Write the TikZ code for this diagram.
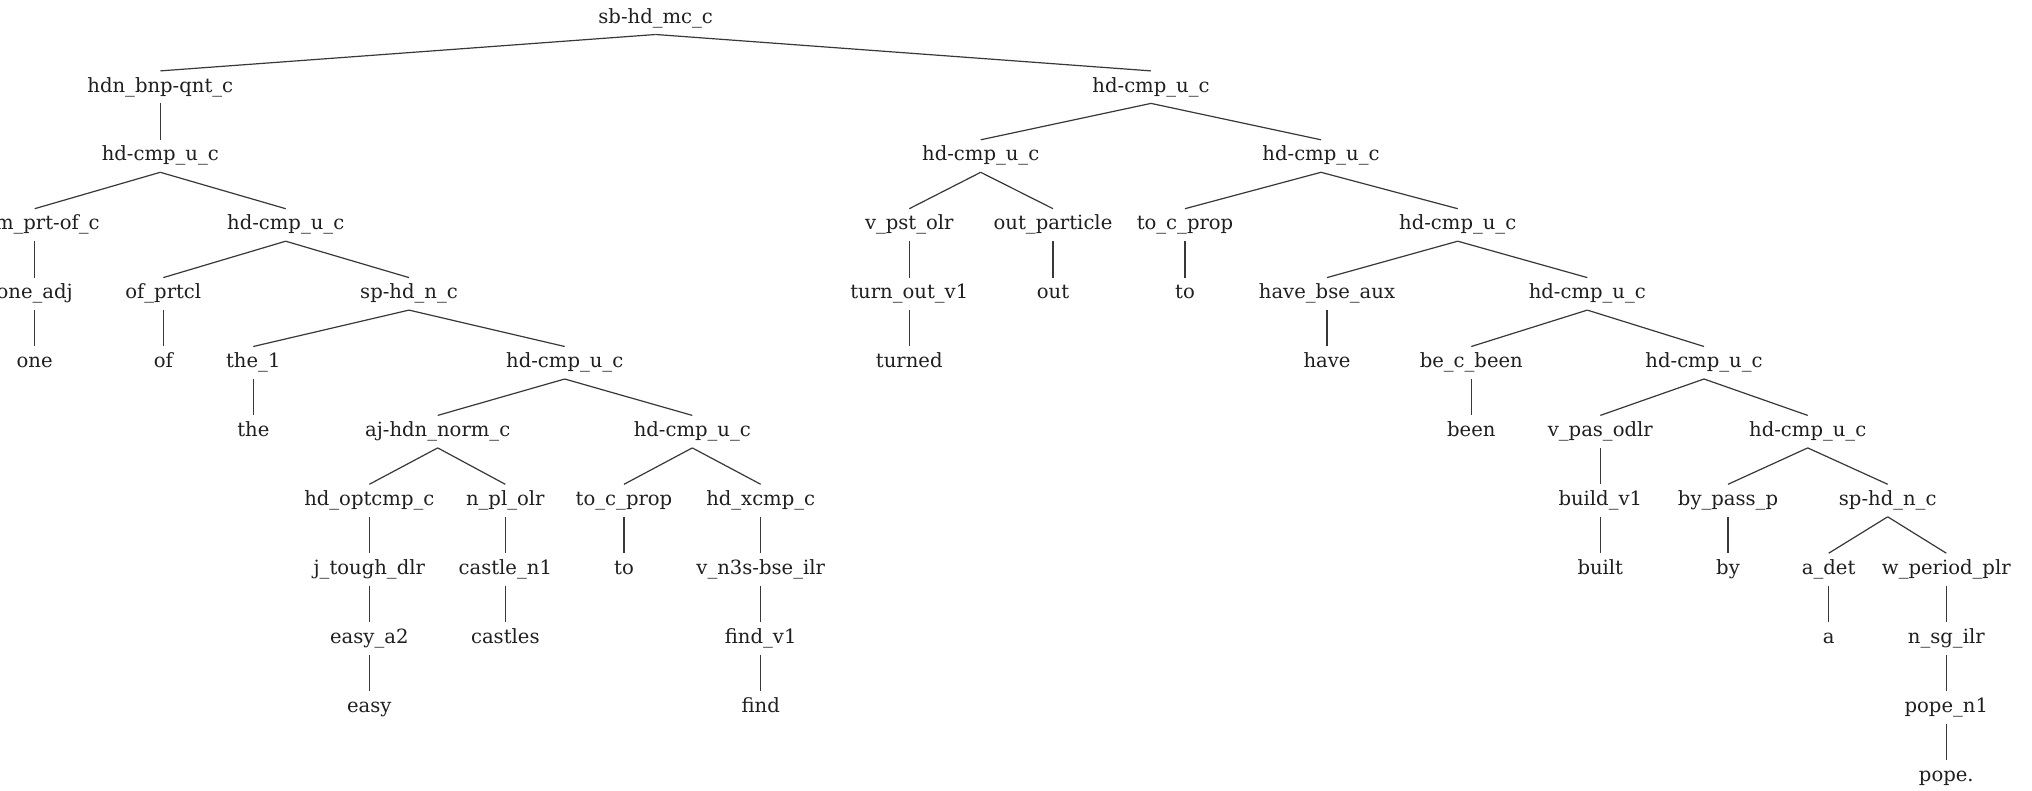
\documentclass[tikz,border=0pt]{standalone}
\usepackage{fontspec}
\setmainfont{DejaVu Serif}
\begin{document}
\begin{tikzpicture}[x=1pt,y=-1pt,
  lbl/.style={anchor=base,inner sep=0pt,text height=21pt,text depth=11.1pt,
    text=black!88,font=\fontsize{19.6}{24}\selectfont},
  link/.style={draw=black!78,line width=1.2pt}]
\clip (0,0) rectangle (2032,791);
\fill[white] (0,0) rectangle (2032,791);
\def\lv#1{23.2+68.9*#1}
% level 0
\node[lbl] (r) at (655.7,{\lv{0}}) {sb-hd\_mc\_c};
% level 1
\node[lbl] (a) at (160.3,{\lv{1}}) {hdn\_bnp-qnt\_c};
\node[lbl] (b) at (1151,{\lv{1}}) {hd-cmp\_u\_c};
% level 2
\node[lbl] (a1) at (160.3,{\lv{2}}) {hd-cmp\_u\_c};
\node[lbl] (b1) at (980.7,{\lv{2}}) {hd-cmp\_u\_c};
\node[lbl] (b2) at (1321,{\lv{2}}) {hd-cmp\_u\_c};
% level 3
\node[lbl] (a11) at (34.7,{\lv{3}}) {num\_prt-of\_c};
\node[lbl] (a12) at (285.7,{\lv{3}}) {hd-cmp\_u\_c};
\node[lbl] (b11) at (909.3,{\lv{3}}) {v\_pst\_olr};
\node[lbl] (b12) at (1053,{\lv{3}}) {out\_particle};
\node[lbl] (b21) at (1185,{\lv{3}}) {to\_c\_prop};
\node[lbl] (b22) at (1457.7,{\lv{3}}) {hd-cmp\_u\_c};
% level 4
\node[lbl] (a111) at (34.7,{\lv{4}}) {one\_adj};
\node[lbl] (a121) at (163.3,{\lv{4}}) {of\_prtcl};
\node[lbl] (a122) at (409,{\lv{4}}) {sp-hd\_n\_c};
\node[lbl] (b111) at (909.3,{\lv{4}}) {turn\_out\_v1};
\node[lbl] (b121) at (1053,{\lv{4}}) {out};
\node[lbl] (b211) at (1185,{\lv{4}}) {to};
\node[lbl] (b221) at (1327,{\lv{4}}) {have\_bse\_aux};
\node[lbl] (b222) at (1587.3,{\lv{4}}) {hd-cmp\_u\_c};
% level 5
\node[lbl] (a1111) at (34.7,{\lv{5}}) {one};
\node[lbl] (a1211) at (163.3,{\lv{5}}) {of};
\node[lbl] (c1) at (253.3,{\lv{5}}) {the\_1};
\node[lbl] (c2) at (564.7,{\lv{5}}) {hd-cmp\_u\_c};
\node[lbl] (b1111) at (909.3,{\lv{5}}) {turned};
\node[lbl] (b2211) at (1327,{\lv{5}}) {have};
\node[lbl] (d1) at (1471.3,{\lv{5}}) {be\_c\_been};
\node[lbl] (d2) at (1704,{\lv{5}}) {hd-cmp\_u\_c};
% level 6
\node[lbl] (c11) at (253.3,{\lv{6}}) {the};
\node[lbl] (c21) at (437.7,{\lv{6}}) {aj-hdn\_norm\_c};
\node[lbl] (c22) at (692.3,{\lv{6}}) {hd-cmp\_u\_c};
\node[lbl] (d11) at (1471.3,{\lv{6}}) {been};
\node[lbl] (d21) at (1600.3,{\lv{6}}) {v\_pas\_odlr};
\node[lbl] (d22) at (1807.7,{\lv{6}}) {hd-cmp\_u\_c};
% level 7
\node[lbl] (e1) at (369.3,{\lv{7}}) {hd\_optcmp\_c};
\node[lbl] (e2) at (505.3,{\lv{7}}) {n\_pl\_olr};
\node[lbl] (f1) at (624,{\lv{7}}) {to\_c\_prop};
\node[lbl] (f2) at (760.7,{\lv{7}}) {hd\_xcmp\_c};
\node[lbl] (g1) at (1600.3,{\lv{7}}) {build\_v1};
\node[lbl] (h1) at (1728,{\lv{7}}) {by\_pass\_p};
\node[lbl] (h2) at (1887.7,{\lv{7}}) {sp-hd\_n\_c};
% level 8
\node[lbl] (e11) at (369.3,{\lv{8}}) {j\_tough\_dlr};
\node[lbl] (e21) at (505.3,{\lv{8}}) {castle\_n1};
\node[lbl] (f11) at (624,{\lv{8}}) {to};
\node[lbl] (f21) at (760.7,{\lv{8}}) {v\_n3s-bse\_ilr};
\node[lbl] (g11) at (1600.3,{\lv{8}}) {built};
\node[lbl] (h11) at (1728,{\lv{8}}) {by};
\node[lbl] (i1) at (1828.7,{\lv{8}}) {a\_det};
\node[lbl] (i2) at (1946.3,{\lv{8}}) {w\_period\_plr};
% level 9
\node[lbl] (e111) at (369.3,{\lv{9}}) {easy\_a2};
\node[lbl] (e211) at (505.3,{\lv{9}}) {castles};
\node[lbl] (f211) at (760.7,{\lv{9}}) {find\_v1};
\node[lbl] (i11) at (1828.7,{\lv{9}}) {a};
\node[lbl] (i21) at (1946.3,{\lv{9}}) {n\_sg\_ilr};
% level 10
\node[lbl] (e1111) at (369.3,{\lv{10}}) {easy};
\node[lbl] (f2111) at (760.7,{\lv{10}}) {find};
\node[lbl] (i211) at (1946.3,{\lv{10}}) {pope\_n1};
% level 11
\node[lbl] (i2111) at (1946.3,{\lv{11}}) {pope.};
% branches
\foreach \p/\c in {r/a,r/b,a/a1,b/b1,b/b2,a1/a11,a1/a12,b1/b11,b1/b12,b2/b21,b2/b22,
  a11/a111,a12/a121,a12/a122,b11/b111,b12/b121,b21/b211,b22/b221,b22/b222,
  a111/a1111,a121/a1211,a122/c1,a122/c2,b111/b1111,b221/b2211,b222/d1,b222/d2,
  c1/c11,c2/c21,c2/c22,d1/d11,d2/d21,d2/d22,
  c21/e1,c21/e2,c22/f1,c22/f2,d21/g1,d22/h1,d22/h2,
  e1/e11,e2/e21,f1/f11,f2/f21,g1/g11,h1/h11,h2/i1,h2/i2,
  e11/e111,e21/e211,f21/f211,i1/i11,i2/i21,
  e111/e1111,f211/f2111,i21/i211,i211/i2111}
  \draw[link] (\p.south) -- (\c.north);
\end{tikzpicture}
\end{document}
